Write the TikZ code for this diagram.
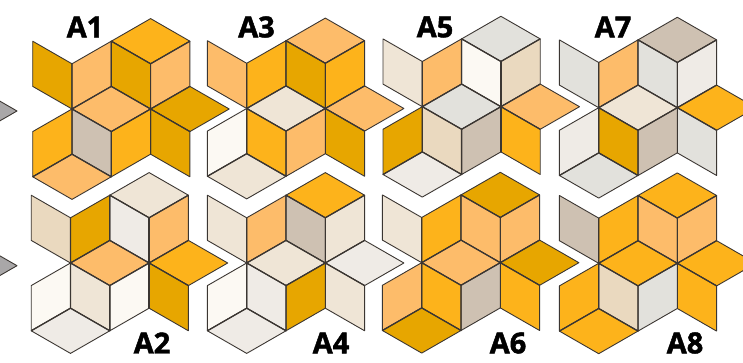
\documentclass[tikz,border=0pt]{standalone}
\usepackage{fontspec}
\usepackage{xcolor}
\usepackage{tikz}
\newfontfamily\labfont[BoldFeatures={FakeBold=1.6}]{Open Sans}
\definecolor{dk}{RGB}{231,166,0}
\definecolor{md}{RGB}{253,179,27}
\definecolor{lt}{RGB}{253,188,106}
\definecolor{bg}{RGB}{239,229,214}
\definecolor{tn}{RGB}{234,217,191}
\definecolor{gb}{RGB}{206,193,178}
\definecolor{wh}{RGB}{252,249,243}
\definecolor{lg}{RGB}{239,235,230}
\definecolor{gy}{RGB}{226,225,220}
\definecolor{tipcol}{RGB}{169,167,168}
\definecolor{edgecol}{RGB}{59,54,50}
\tikzset{
  tile/.style={draw=edgecol,line width=0.9pt,line join=round},
  seam/.style={draw=edgecol,line width=1.25pt,line join=round},
  lab/.style={font=\labfont\bfseries\fontsize{29}{29}\selectfont,text=black,inner sep=0pt}
}
% one block: hub x, hub y, then the twelve colours
\newcommand{\block}[3]{
\begin{scope}[shift={(#1pt,#2pt)}]
\foreach \p/\q/\r/\s [count=\i from 0] in {{(-1,3)/(0,2)/(0,0)/(-1,1)},{(0,2)/(1,3)/(1,1)/(0,0)},
  {(1,3)/(2,4)/(3,3)/(2,2)},{(1,3)/(2,2)/(2,0)/(1,1)},{(2,2)/(3,3)/(3,1)/(2,0)},
  {(0,0)/(1,1)/(2,0)/(1,-1)},{(2,0)/(3,1)/(4,0)/(3,-1)},{(2,0)/(3,-1)/(3,-3)/(2,-2)},
  {(1,-1)/(2,0)/(2,-2)/(1,-3)},{(0,0)/(1,-1)/(1,-3)/(0,-2)},{(-1,-1)/(0,0)/(0,-2)/(-1,-3)},
  {(-1,-3)/(0,-2)/(1,-3)/(0,-4)}} {
  \pgfmathsetmacro{\tilecol}{{#3}[\i]}
  \filldraw[tile,fill=\tilecol] \p -- \q -- \r -- \s -- cycle;
}
% the edges shared by two tiles are heavier
\draw[seam] (0,2) -- (0,0) -- (1,1) -- (2,0) -- (1,-1) -- (0,0) -- (0,-2) -- (-1,-3);
\draw[seam] (1,1) -- (1,3) -- (2,2) -- (3,3);
\draw[seam] (2,2) -- (2,-2);
\draw[seam] (3,1) -- (2,0) -- (3,-1);
\draw[seam] (1,-1) -- (1,-3) -- (0,-2);
\end{scope}
}
\begin{document}
\begin{tikzpicture}[x=39.3pt,y=22.6pt]
\clip (0pt,0pt) rectangle (743pt,363pt);
\begin{scope}[shift={(17pt,252pt)}]
\filldraw[tile,fill=tipcol] (0,0) -- (-1,1) -- (-2,0) -- (-1,-1) -- cycle;
\end{scope}
\begin{scope}[shift={(17pt,97.3pt)}]
\filldraw[tile,fill=tipcol] (0,0) -- (-1,1) -- (-2,0) -- (-1,-1) -- cycle;
\end{scope}
\block{72}{254}{"dk","lt","md","dk","lt","lt","dk","dk","md","gb","md","lt"}
\block{70.5}{100}{"tn","dk","bg","lg","lt","lt","md","dk","wh","bg","wh","lg"}
\block{246.7}{254.5}{"lt","md","lt","dk","md","bg","lt","dk","lt","md","wh","bg"}
\block{246.7}{100}{"bg","lt","md","gb","bg","bg","lg","bg","dk","lg","wh","lg"}
\block{422.3}{256.3}{"bg","lt","gy","wh","tn","gy","lt","md","gb","tn","dk","lg"}
\block{421.7}{100.3}{"bg","md","dk","lt","lt","lt","dk","md","gb","md","lt","dk"}
\block{598.7}{255.3}{"gy","lt","gb","gy","lg","bg","md","gy","gb","dk","lg","gy"}
\block{598.7}{99.7}{"gb","md","md","lt","lt","md","md","md","gy","tn","md","md"}
\node[lab] (labA1) at (85pt,336pt) {A1};
\node[lab] (labA3) at (256.5pt,336pt) {A3};
\node[lab] (labA5) at (435pt,336pt) {A5};
\node[lab] (labA7) at (613pt,336pt) {A7};
\node[lab] (labA2) at (152pt,20pt) {A2};
\node[lab] (labA4) at (331pt,20pt) {A4};
\node[lab] (labA6) at (508pt,20pt) {A6};
\node[lab] (labA8) at (685pt,20pt) {A8};
\end{tikzpicture}
\end{document}
